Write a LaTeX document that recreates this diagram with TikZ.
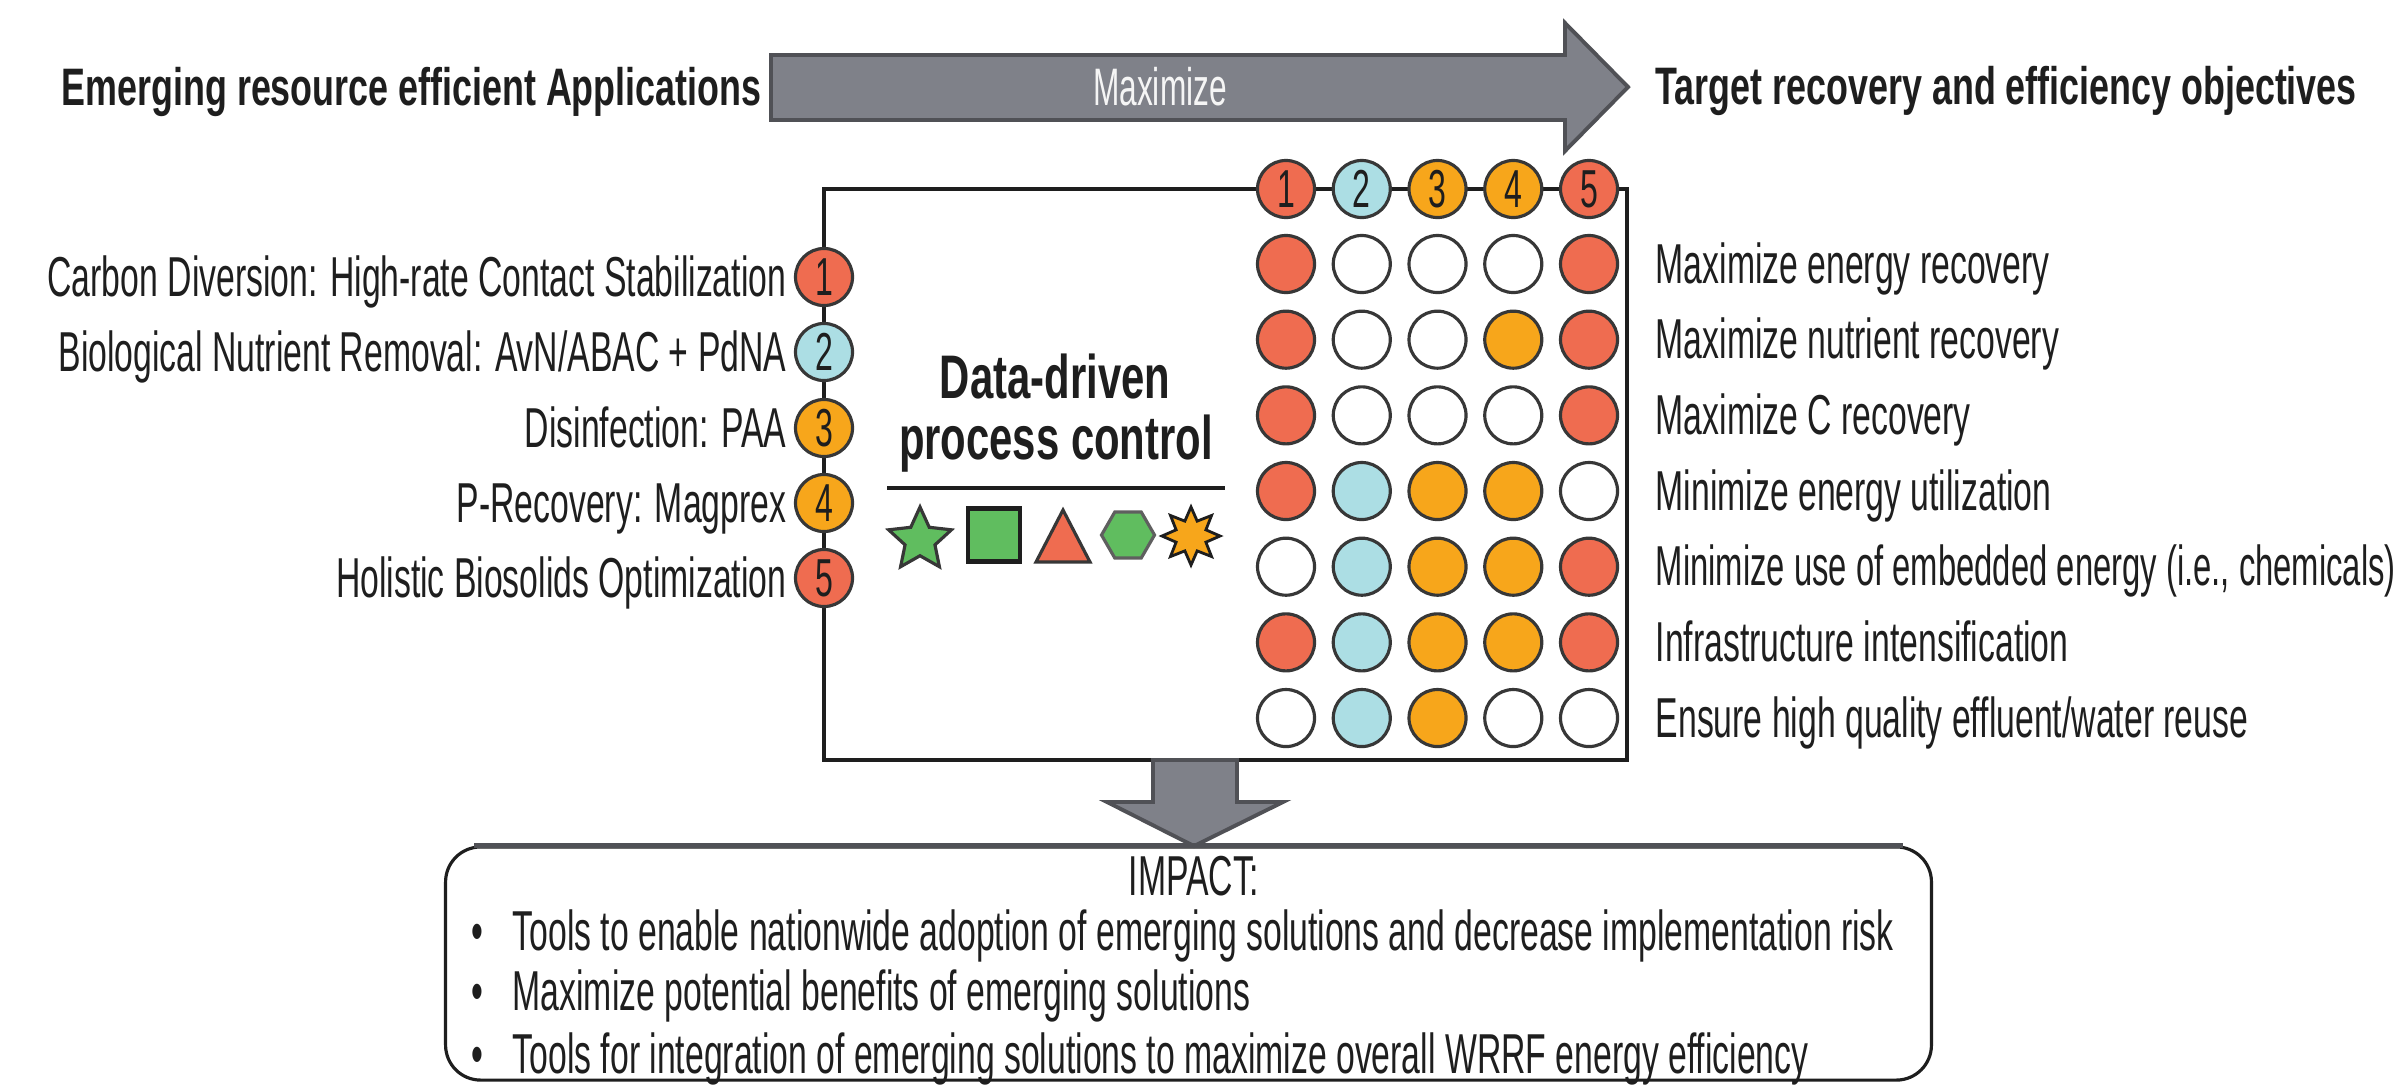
\documentclass[tikz,border=0pt]{standalone}
\usepackage{fontspec}
\setmainfont{Liberation Sans}[FakeStretch=0.60]
\newfontfamily\headfont{Liberation Sans}[FakeStretch=0.68]
\newfontfamily\tightfont{Liberation Sans}[FakeStretch=0.583]
\usetikzlibrary{shapes.geometric}

\definecolor{dotred}{RGB}{239,108,80}
\definecolor{dotblue}{RGB}{172,222,228}
\definecolor{dotorange}{RGB}{247,166,27}
\definecolor{symgreen}{RGB}{96,189,95}
\definecolor{arrowfill}{RGB}{127,129,137}
\definecolor{arrowedge}{RGB}{80,81,86}
\definecolor{ringgray}{RGB}{55,55,55}
\definecolor{inkblack}{RGB}{30,30,30}

\newcommand{\lblfont}{\fontsize{16}{19}\selectfont}

\tikzset{
  lbl/.style={font=\lblfont, text=inkblack, inner sep=0pt},
  headline/.style={font=\headfont\fontsize{15}{18}\selectfont\bfseries, text=inkblack, inner sep=0pt},
  ddcline/.style={font=\headfont\fontsize{17.5}{20}\selectfont\bfseries, text=inkblack, inner sep=0pt, anchor=base},
  dot/.style={circle, minimum size=0.57cm, inner sep=0pt, draw=ringgray, line width=0.9pt,
              font=\fontsize{15.2}{17}\selectfont, text=inkblack},
  panel/.style={draw=inkblack, line width=1pt},
  blockarrow/.style={fill=arrowfill, draw=arrowedge, line width=1.1pt, line join=miter},
  symbol/.style={inner sep=0pt, line width=0.9pt},
}

\begin{document}
\begin{tikzpicture}[x=0.01cm, y=-0.01cm]
\useasboundingbox (0,0) rectangle (2407,1084);
\clip (0,0) rectangle (2407,1084);
\fill[white] (0,0) rectangle (2407,1084);

% headings on either side of the arrow
\node[headline, anchor=base west] (srcttl) at (61,105) {Emerging resource efficient Applications};
\node[headline, anchor=base west] (tgtttl) at (1655,104) {Target recovery and efficiency objectives};

% "Maximize" block arrow
\draw[blockarrow] (771,55) -- (1565,55) -- (1565,23) -- (1628,87) -- (1565,151) -- (1565,120) -- (771,120) -- cycle;
\node[font=\fontsize{15}{17}\selectfont, text=white!92!gray, inner sep=0pt] (maxlbl) at (1160,87) {Maximize};

% central panel
\draw[panel] (824,189) rectangle (1627,760);

% applications along the left edge
\node[dot, fill=dotred]    (app1) at (824,277) {1};
\node[dot, fill=dotblue]   (app2) at (824,352) {2};
\node[dot, fill=dotorange] (app3) at (824,428) {3};
\node[dot, fill=dotorange] (app4) at (824,503) {4};
\node[dot, fill=dotred]    (app5) at (824,578) {5};
\node[lbl, anchor=base east] (applbl1) at (787,296) {Carbon Diversion: High-rate Contact Stabilization};
\node[lbl, anchor=base east] (applbl2) at (787,371) {Biological Nutrient Removal: AvN/ABAC + PdNA};
\node[lbl, anchor=base east] (applbl3) at (787,447) {Disinfection: PAA};
\node[lbl, anchor=base east] (applbl4) at (787,522) {P-Recovery: Magprex};
\node[lbl, anchor=base east] (applbl5) at (787,597) {Holistic Biosolids Optimization};

% column headers on the top edge
\foreach \c [count=\i] in {dotred,dotblue,dotorange,dotorange,dotred}
  \node[dot, fill=\c] (col\i) at ({1286+(\i-1)*75.75},189) {\i};

% objective / application matrix
\foreach \row [count=\r] in {
    {dotred,white,white,white,dotred},
    {dotred,white,white,dotorange,dotred},
    {dotred,white,white,white,dotred},
    {dotred,dotblue,dotorange,dotorange,white},
    {white,dotblue,dotorange,dotorange,dotred},
    {dotred,dotblue,dotorange,dotorange,dotred},
    {white,dotblue,dotorange,white,white}}
  \foreach \c [count=\k] in \row
    \node[dot, fill=\c] (cell\r-\k) at ({1286+(\k-1)*75.75},{264+(\r-1)*75.67}) {};

% objectives
\foreach \t [count=\r] in {
    {Maximize energy recovery},
    {Maximize nutrient recovery},
    {Maximize C recovery},
    {Minimize energy utilization},
    {\tightfont Minimize use of embedded energy (i.e., chemicals)},
    {Infrastructure intensification},
    {Ensure high quality effluent/water reuse}}
  \node[lbl, anchor=base west] (obj\r) at (1655,{283+(\r-1)*75.67}) {\t};

% data-driven control caption and symbols
\node[ddcline] (ddc1) at (1055,398) {Data-driven};
\node[ddcline] (ddc2) at (1056,459) {process control};
\draw[inkblack, line width=1.2pt] (887,488) -- (1225,488);

\node[symbol, star, star points=5, star point ratio=2.1, minimum size=0.66cm,
      fill=symgreen, draw=ringgray] (symstar) at (920,540) {};
\node[symbol, rectangle, minimum width=0.52cm, minimum height=0.53cm,
      fill=symgreen, draw=inkblack, line width=1.2pt] (symsq) at (994,535) {};
\draw[fill=dotred, draw=ringgray, line width=0.9pt, line join=miter] (1036,562) -- (1063,510) -- (1090,562) -- cycle;
\node[symbol, regular polygon, regular polygon sides=6, minimum size=0.53cm,
      fill=symgreen, draw=ringgray!80] (symhex) at (1128,535) {};
\node[symbol, star, star points=8, star point ratio=1.8, minimum size=0.58cm,
      fill=dotorange, draw=inkblack, line width=0.8pt] (symburst) at (1191,536) {};

% downward arrow into the impact box
\draw[blockarrow] (1153,760) -- (1237,760) -- (1237,802) -- (1283,802) -- (1194,846)
      -- (1107,802) -- (1153,802) -- cycle;

% impact box
\node[draw=inkblack, line width=0.9pt, rounded corners=0.35cm, minimum width=14.85cm,
      minimum height=2.33cm, inner sep=0pt] (impact) at (1188.5,963.5) {};
\draw[arrowedge, line width=1.6pt] ([xshift=0.3cm]impact.north west) -- ([xshift=-0.3cm]impact.north east);

\node[lbl, anchor=base] (impttl) at (1194,895) {IMPACT:};
\node[lbl, anchor=base] (bul1) at (477,950) {\textbullet};
\node[lbl, anchor=base] (bul2) at (477,1010) {\textbullet};
\node[lbl, anchor=base] (bul3) at (477,1073) {\textbullet};
\node[lbl, anchor=base west] (imp1) at (512,950) {Tools to enable nationwide adoption of emerging solutions and decrease implementation risk};
\node[lbl, anchor=base west] (imp2) at (512,1010) {Maximize potential benefits of emerging solutions};
\node[lbl, anchor=base west] (imp3) at (512,1073) {Tools for integration of emerging solutions to maximize overall WRRF energy efficiency};
\end{tikzpicture}
\end{document}
